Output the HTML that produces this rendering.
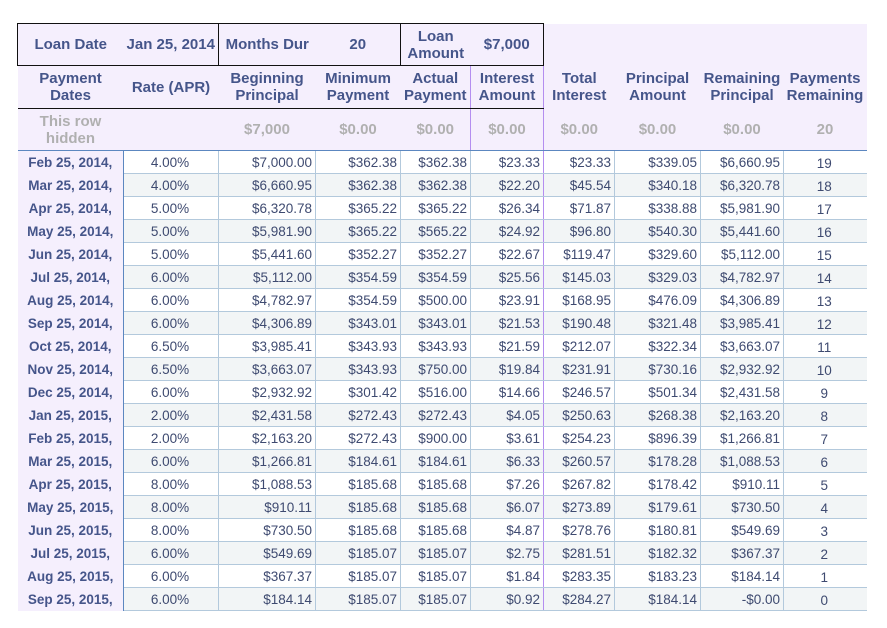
<!DOCTYPE html>
<html><head><meta charset="utf-8"><style>
body{margin:0;background:#fff;width:887px;height:628px;overflow:hidden;font-family:"Liberation Sans",Arial,sans-serif}
table{position:absolute;left:17px;top:23px;width:849px;border-collapse:collapse;table-layout:fixed}
td{padding:0 1px;overflow:hidden;white-space:nowrap}
.h td{background:#f5effd;color:#45558a;font-weight:bold;font-size:15px;text-align:center;line-height:17px}
tr.top td{height:41px}
tr.top td.b{border-top:1.5px solid #111;border-bottom:1.5px solid #111}
tr.hd td{height:42px}
tr.hid td{height:41px;color:#b0b0b0;font-size:15px;border-bottom:1.5px solid #5c87c0}
tr.d td{height:22px;border:1px solid #b3c9dc;color:#3e4a70;font-size:13.5px;text-align:right;padding-right:3px}
tr.d td.f{background:#f5effd;color:#45558a;font-weight:bold;text-align:center;border:none;border-right:1.5px solid #5c87c0;font-size:13.5px;padding:0}
tr.d td.r{text-align:center}
tr.d td.p{text-align:center;padding-top:3px;height:19px}
tr.d td.i{border-left:1.5px solid #b48ef0;border-right:1.5px solid #b48ef0}
tr.d td.last{border-right:none}
tr.d:nth-child(odd) td{background:#fff}
tr.d:nth-child(even) td{background:#f2f5f6}
tr.d td.f{background:#f5effd!important}
td.ia{border-left:1.5px solid #b48ef0;border-right:1.5px solid #b48ef0}
</style></head><body>
<table>
<colgroup><col style="width:106px"><col style="width:95px"><col style="width:97px"><col style="width:85px"><col style="width:70px"><col style="width:73px"><col style="width:71px"><col style="width:86px"><col style="width:83px"><col style="width:83px"></colgroup>
<tbody class="h">
<tr class="top"><td class="b" style="border-left:1.5px solid #111">Loan Date</td><td class="b" style="border-right:1.5px solid #111">Jan 25, 2014</td><td class="b">Months Dur</td><td class="b" style="border-right:1.5px solid #111">20</td><td class="b">Loan<br>Amount</td><td class="b" style="border-right:1.5px solid #111">$7,000</td><td></td><td></td><td></td><td></td></tr>
<tr class="hd"><td style="border-bottom:1.5px solid #111">Payment<br>Dates</td><td style="border-bottom:1.5px solid #111">Rate (APR)</td><td style="border-bottom:1.5px solid #111">Beginning<br>Principal</td><td style="border-bottom:1.5px solid #111">Minimum<br>Payment</td><td style="border-bottom:1.5px solid #111">Actual<br>Payment</td><td class="ia" style="border-bottom:1.5px solid #111">Interest<br>Amount</td><td>Total<br>Interest</td><td>Principal<br>Amount</td><td>Remaining<br>Principal</td><td>Payments<br>Remaining</td></tr>
<tr class="hid"><td>This row<br>hidden</td><td></td><td>$7,000</td><td>$0.00</td><td>$0.00</td><td class="ia">$0.00</td><td>$0.00</td><td>$0.00</td><td>$0.00</td><td>20</td></tr>
</tbody>
<tbody>
<tr class="d"><td class="f">Feb 25, 2014,</td><td class="r">4.00%</td><td>$7,000.00</td><td>$362.38</td><td>$362.38</td><td class="i">$23.33</td><td>$23.33</td><td>$339.05</td><td>$6,660.95</td><td class="p last">19</td></tr>
<tr class="d"><td class="f">Mar 25, 2014,</td><td class="r">4.00%</td><td>$6,660.95</td><td>$362.38</td><td>$362.38</td><td class="i">$22.20</td><td>$45.54</td><td>$340.18</td><td>$6,320.78</td><td class="p last">18</td></tr>
<tr class="d"><td class="f">Apr 25, 2014,</td><td class="r">5.00%</td><td>$6,320.78</td><td>$365.22</td><td>$365.22</td><td class="i">$26.34</td><td>$71.87</td><td>$338.88</td><td>$5,981.90</td><td class="p last">17</td></tr>
<tr class="d"><td class="f">May 25, 2014,</td><td class="r">5.00%</td><td>$5,981.90</td><td>$365.22</td><td>$565.22</td><td class="i">$24.92</td><td>$96.80</td><td>$540.30</td><td>$5,441.60</td><td class="p last">16</td></tr>
<tr class="d"><td class="f">Jun 25, 2014,</td><td class="r">5.00%</td><td>$5,441.60</td><td>$352.27</td><td>$352.27</td><td class="i">$22.67</td><td>$119.47</td><td>$329.60</td><td>$5,112.00</td><td class="p last">15</td></tr>
<tr class="d"><td class="f">Jul 25, 2014,</td><td class="r">6.00%</td><td>$5,112.00</td><td>$354.59</td><td>$354.59</td><td class="i">$25.56</td><td>$145.03</td><td>$329.03</td><td>$4,782.97</td><td class="p last">14</td></tr>
<tr class="d"><td class="f">Aug 25, 2014,</td><td class="r">6.00%</td><td>$4,782.97</td><td>$354.59</td><td>$500.00</td><td class="i">$23.91</td><td>$168.95</td><td>$476.09</td><td>$4,306.89</td><td class="p last">13</td></tr>
<tr class="d"><td class="f">Sep 25, 2014,</td><td class="r">6.00%</td><td>$4,306.89</td><td>$343.01</td><td>$343.01</td><td class="i">$21.53</td><td>$190.48</td><td>$321.48</td><td>$3,985.41</td><td class="p last">12</td></tr>
<tr class="d"><td class="f">Oct 25, 2014,</td><td class="r">6.50%</td><td>$3,985.41</td><td>$343.93</td><td>$343.93</td><td class="i">$21.59</td><td>$212.07</td><td>$322.34</td><td>$3,663.07</td><td class="p last">11</td></tr>
<tr class="d"><td class="f">Nov 25, 2014,</td><td class="r">6.50%</td><td>$3,663.07</td><td>$343.93</td><td>$750.00</td><td class="i">$19.84</td><td>$231.91</td><td>$730.16</td><td>$2,932.92</td><td class="p last">10</td></tr>
<tr class="d"><td class="f">Dec 25, 2014,</td><td class="r">6.00%</td><td>$2,932.92</td><td>$301.42</td><td>$516.00</td><td class="i">$14.66</td><td>$246.57</td><td>$501.34</td><td>$2,431.58</td><td class="p last">9</td></tr>
<tr class="d"><td class="f">Jan 25, 2015,</td><td class="r">2.00%</td><td>$2,431.58</td><td>$272.43</td><td>$272.43</td><td class="i">$4.05</td><td>$250.63</td><td>$268.38</td><td>$2,163.20</td><td class="p last">8</td></tr>
<tr class="d"><td class="f">Feb 25, 2015,</td><td class="r">2.00%</td><td>$2,163.20</td><td>$272.43</td><td>$900.00</td><td class="i">$3.61</td><td>$254.23</td><td>$896.39</td><td>$1,266.81</td><td class="p last">7</td></tr>
<tr class="d"><td class="f">Mar 25, 2015,</td><td class="r">6.00%</td><td>$1,266.81</td><td>$184.61</td><td>$184.61</td><td class="i">$6.33</td><td>$260.57</td><td>$178.28</td><td>$1,088.53</td><td class="p last">6</td></tr>
<tr class="d"><td class="f">Apr 25, 2015,</td><td class="r">8.00%</td><td>$1,088.53</td><td>$185.68</td><td>$185.68</td><td class="i">$7.26</td><td>$267.82</td><td>$178.42</td><td>$910.11</td><td class="p last">5</td></tr>
<tr class="d"><td class="f">May 25, 2015,</td><td class="r">8.00%</td><td>$910.11</td><td>$185.68</td><td>$185.68</td><td class="i">$6.07</td><td>$273.89</td><td>$179.61</td><td>$730.50</td><td class="p last">4</td></tr>
<tr class="d"><td class="f">Jun 25, 2015,</td><td class="r">8.00%</td><td>$730.50</td><td>$185.68</td><td>$185.68</td><td class="i">$4.87</td><td>$278.76</td><td>$180.81</td><td>$549.69</td><td class="p last">3</td></tr>
<tr class="d"><td class="f">Jul 25, 2015,</td><td class="r">6.00%</td><td>$549.69</td><td>$185.07</td><td>$185.07</td><td class="i">$2.75</td><td>$281.51</td><td>$182.32</td><td>$367.37</td><td class="p last">2</td></tr>
<tr class="d"><td class="f">Aug 25, 2015,</td><td class="r">6.00%</td><td>$367.37</td><td>$185.07</td><td>$185.07</td><td class="i">$1.84</td><td>$283.35</td><td>$183.23</td><td>$184.14</td><td class="p last">1</td></tr>
<tr class="d"><td class="f">Sep 25, 2015,</td><td class="r">6.00%</td><td>$184.14</td><td>$185.07</td><td>$185.07</td><td class="i">$0.92</td><td>$284.27</td><td>$184.14</td><td>-$0.00</td><td class="p last">0</td></tr>
</tbody>
</table>
</body></html>
